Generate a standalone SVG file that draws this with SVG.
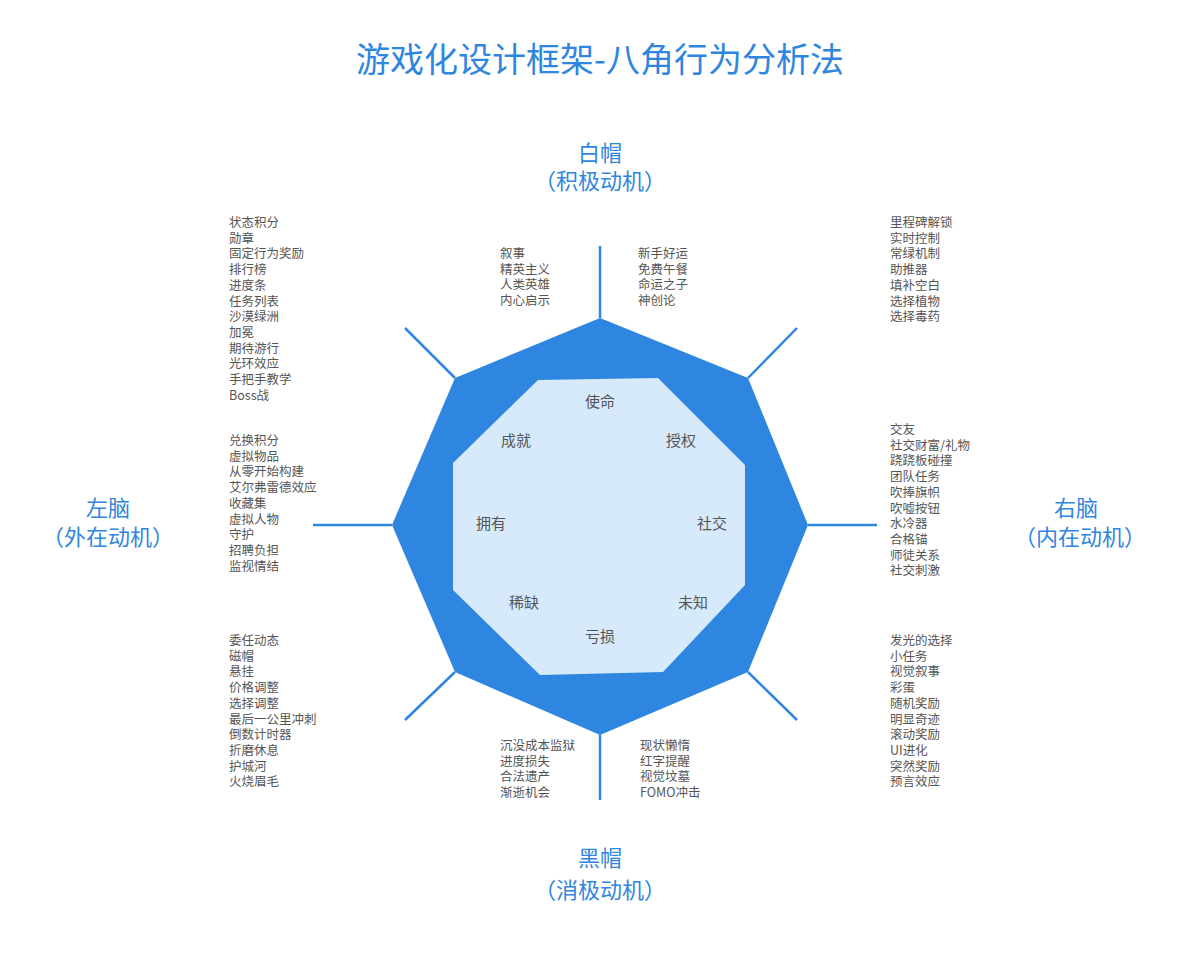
<svg xmlns="http://www.w3.org/2000/svg" width="1200" height="954" viewBox="0 0 1200 954">
<style>
text{font-family:"Noto Sans CJK SC","Noto Sans",sans-serif}
.t{fill:#2f86e0;font-size:22px;text-anchor:middle}
.l{fill:#555;font-size:12.5px}
.c{fill:#555;font-size:15px;text-anchor:middle}
.ln{stroke:#2f86e0;stroke-width:2.5;fill:none}
</style>
<rect width="1200" height="954" fill="#fff"/>
<text x="600" y="72" class="t" style="font-size:34px">游戏化设计框架-八角行为分析法</text>
<g id="labels">
<text x="600" y="161" class="t">白帽</text><text x="600" y="189" class="t">（积极动机）</text>
<text x="600" y="866" class="t">黑帽</text><text x="600" y="898" class="t">（消极动机）</text>
<text x="108" y="516" class="t">左脑</text><text x="108" y="545" class="t">（外在动机）</text>
<text x="1076" y="516" class="t">右脑</text><text x="1080" y="545" class="t">（内在动机）</text>
</g>
<g id="connectors">
<path class="ln" d="M600 246V318M748 378L797 328M808 525H877M748 672L797 720M600 735V800M455 672L405 720M392 525H313M455 378L405 328"/>
</g>
<g id="octagon">
<polygon points="600,318 748,378 808,525 748,672 600,735 455,672 392,525 455,378" fill="#2f86e0"/>
<polygon points="538,380 658,378 745,465 745,585 663,672 540,675 453,590 453,463" fill="#d6eafc"/>
<text x="600" y="407" class="c">使命</text><text x="681" y="446" class="c">授权</text>
<text x="712" y="529" class="c">社交</text><text x="693" y="608" class="c">未知</text>
<text x="600" y="642" class="c">亏损</text><text x="524" y="608" class="c">稀缺</text>
<text x="491" y="529" class="c">拥有</text><text x="516" y="446" class="c">成就</text>
</g>
<g id="lists" class="l">
<text x="229" y="227"><tspan x="229">状态积分</tspan><tspan x="229" dy="15.7">勋章</tspan><tspan x="229" dy="15.7">固定行为奖励</tspan><tspan x="229" dy="15.7">排行榜</tspan><tspan x="229" dy="15.7">进度条</tspan><tspan x="229" dy="15.7">任务列表</tspan><tspan x="229" dy="15.7">沙漠绿洲</tspan><tspan x="229" dy="15.7">加冕</tspan><tspan x="229" dy="15.7">期待游行</tspan><tspan x="229" dy="15.7">光环效应</tspan><tspan x="229" dy="15.7">手把手教学</tspan><tspan x="229" dy="15.7">Boss战</tspan></text>
<text x="229" y="445"><tspan x="229">兑换积分</tspan><tspan x="229" dy="15.7">虚拟物品</tspan><tspan x="229" dy="15.7">从零开始构建</tspan><tspan x="229" dy="15.7">艾尔弗雷德效应</tspan><tspan x="229" dy="15.7">收藏集</tspan><tspan x="229" dy="15.7">虚拟人物</tspan><tspan x="229" dy="15.7">守护</tspan><tspan x="229" dy="15.7">招聘负担</tspan><tspan x="229" dy="15.7">监视情结</tspan></text>
<text x="229" y="645"><tspan x="229">委任动态</tspan><tspan x="229" dy="15.7">磁帽</tspan><tspan x="229" dy="15.7">悬挂</tspan><tspan x="229" dy="15.7">价格调整</tspan><tspan x="229" dy="15.7">选择调整</tspan><tspan x="229" dy="15.7">最后一公里冲刺</tspan><tspan x="229" dy="15.7">倒数计时器</tspan><tspan x="229" dy="15.7">折磨休息</tspan><tspan x="229" dy="15.7">护城河</tspan><tspan x="229" dy="15.7">火烧眉毛</tspan></text>
<text x="890" y="227"><tspan x="890">里程碑解锁</tspan><tspan x="890" dy="15.7">实时控制</tspan><tspan x="890" dy="15.7">常绿机制</tspan><tspan x="890" dy="15.7">助推器</tspan><tspan x="890" dy="15.7">填补空白</tspan><tspan x="890" dy="15.7">选择植物</tspan><tspan x="890" dy="15.7">选择毒药</tspan></text>
<text x="890" y="434"><tspan x="890">交友</tspan><tspan x="890" dy="15.7">社交财富/礼物</tspan><tspan x="890" dy="15.7">跷跷板碰撞</tspan><tspan x="890" dy="15.7">团队任务</tspan><tspan x="890" dy="15.7">吹捧旗帜</tspan><tspan x="890" dy="15.7">吹嘘按钮</tspan><tspan x="890" dy="15.7">水冷器</tspan><tspan x="890" dy="15.7">合格锚</tspan><tspan x="890" dy="15.7">师徒关系</tspan><tspan x="890" dy="15.7">社交刺激</tspan></text>
<text x="890" y="645"><tspan x="890">发光的选择</tspan><tspan x="890" dy="15.7">小任务</tspan><tspan x="890" dy="15.7">视觉叙事</tspan><tspan x="890" dy="15.7">彩蛋</tspan><tspan x="890" dy="15.7">随机奖励</tspan><tspan x="890" dy="15.7">明显奇迹</tspan><tspan x="890" dy="15.7">滚动奖励</tspan><tspan x="890" dy="15.7">UI进化</tspan><tspan x="890" dy="15.7">突然奖励</tspan><tspan x="890" dy="15.7">预言效应</tspan></text>
<text x="500" y="258"><tspan x="500">叙事</tspan><tspan x="500" dy="15.7">精英主义</tspan><tspan x="500" dy="15.7">人类英雄</tspan><tspan x="500" dy="15.7">内心启示</tspan></text>
<text x="638" y="258"><tspan x="638">新手好运</tspan><tspan x="638" dy="15.7">免费午餐</tspan><tspan x="638" dy="15.7">命运之子</tspan><tspan x="638" dy="15.7">神创论</tspan></text>
<text x="500" y="750"><tspan x="500">沉没成本监狱</tspan><tspan x="500" dy="15.7">进度损失</tspan><tspan x="500" dy="15.7">合法遗产</tspan><tspan x="500" dy="15.7">渐逝机会</tspan></text>
<text x="640" y="750"><tspan x="640">现状懒惰</tspan><tspan x="640" dy="15.7">红字提醒</tspan><tspan x="640" dy="15.7">视觉坟墓</tspan><tspan x="640" dy="15.7">FOMO冲击</tspan></text>
</g>
</svg>
